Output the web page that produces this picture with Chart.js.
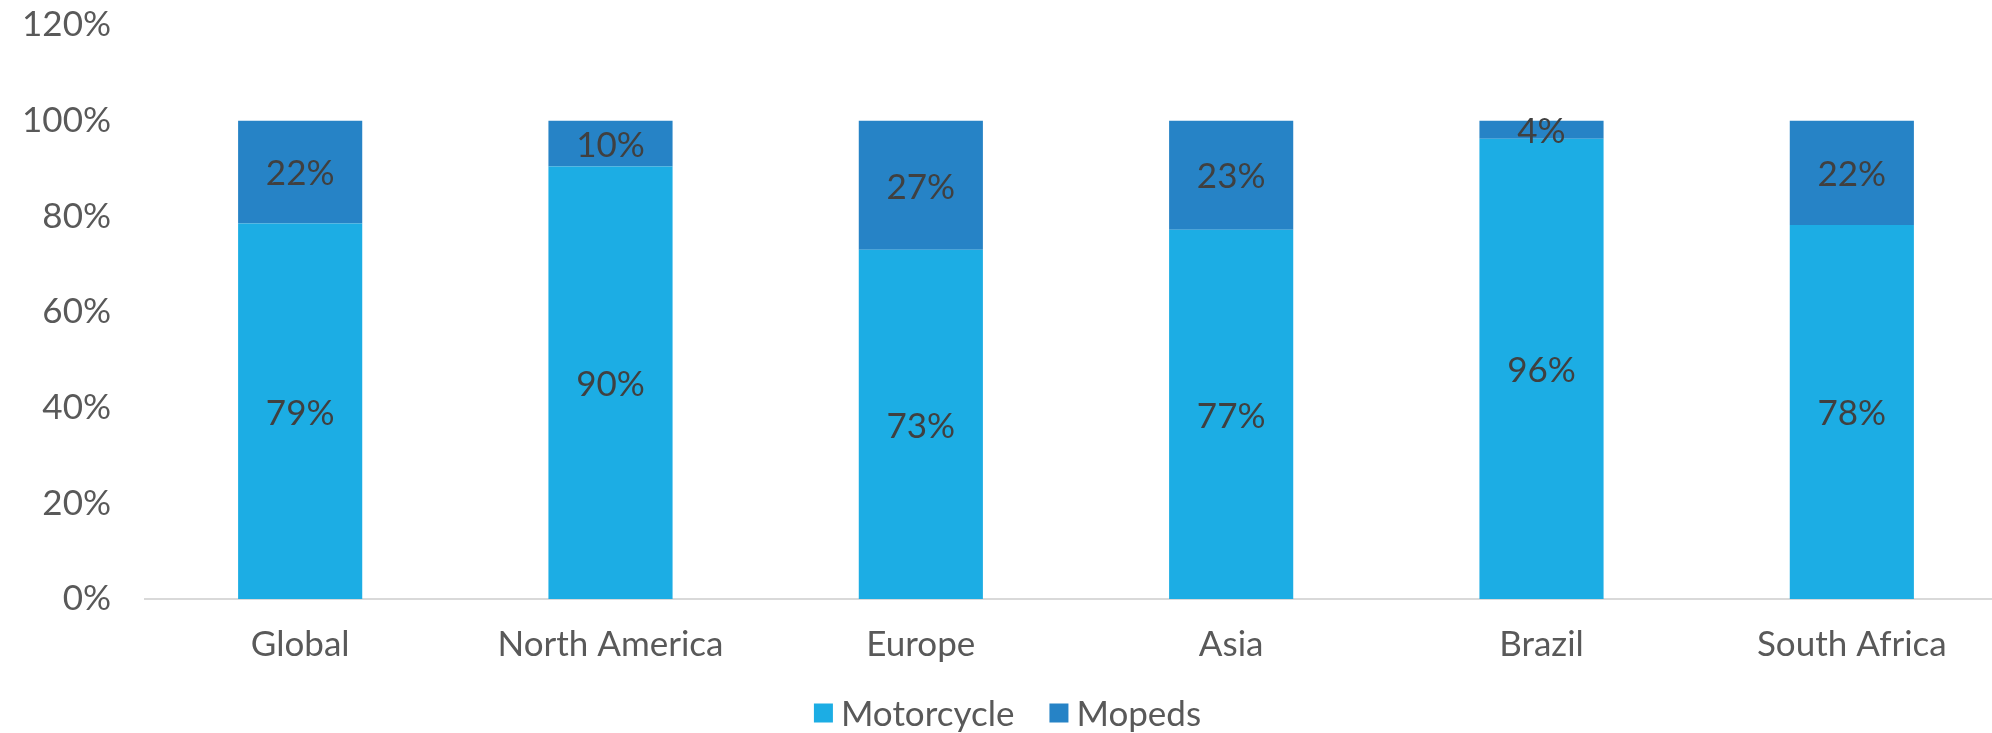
<!DOCTYPE html>
<html>
<head>
<meta charset="utf-8">
<script src="https://cdn.jsdelivr.net/npm/chart.js@4/dist/chart.umd.min.js"></script>
<style>
  html, body { margin: 0; padding: 0; background: #ffffff; overflow: hidden; }
  #wrap { width: 1992px; height: 733px; overflow: hidden; }
  canvas { display: block; }
</style>
</head>
<body>
<div id="wrap"><canvas id="c" width="2015" height="733"></canvas></div>
<script>
const categories = ["Global", "North America", "Europe", "Asia", "Brazil", "South Africa"];
const motorcycle = [78.5, 90.4, 73, 77.2, 96.2, 78.2];
const mopeds = [21.5, 9.6, 27, 22.8, 3.8, 21.8];
const seriesNames = ["Motorcycle", "Mopeds"];
const seriesColors = ["#1CADE4", "#2683C6"];
const yTicks = [0, 20, 40, 60, 80, 100, 120];

const FONT = "Lato, 'DejaVu Sans', sans-serif";
const FSIZE = 35;

const dataLabelPlugin = {
  id: 'dataLabels',
  afterDatasetsDraw(chart) {
    const ctx = chart.ctx;
    ctx.save();
    ctx.font = FSIZE + "px " + FONT;
    ctx.fillStyle = "#404040";
    ctx.textAlign = "center";
    ctx.textBaseline = "middle";
    chart.data.datasets.forEach((ds, di) => {
      const meta = chart.getDatasetMeta(di);
      meta.data.forEach((el, i) => {
        const p = el.getProps(['x', 'y', 'base'], true);
        ctx.fillText(Math.round(ds.data[i]) + "%", p.x, (p.y + p.base) / 2 + 2);
      });
    });
    ctx.restore();
  }
};

const legendPlugin = {
  id: 'customLegend',
  afterDraw(chart) {
    const ctx = chart.ctx;
    ctx.save();
    ctx.font = FSIZE + "px " + FONT;
    const box = 19, gap = 8, itemGap = 35;
    const items = chart.data.datasets.map(d => ({ label: d.label, color: d.backgroundColor, w: ctx.measureText(d.label).width }));
    let total = 0;
    items.forEach((it, i) => { total += box + gap + it.w + (i < items.length - 1 ? itemGap : 0); });
    let x = chart.width / 2 - total / 2;
    const yc = 713;
    items.forEach(it => {
      ctx.fillStyle = it.color;
      ctx.fillRect(x, yc - box / 2, box, box);
      x += box + gap;
      ctx.fillStyle = "#595959";
      ctx.textAlign = "left";
      ctx.textBaseline = "middle";
      ctx.fillText(it.label, x, yc + 2);
      x += it.w + itemGap;
    });
    ctx.restore();
  }
};

new Chart(document.getElementById('c'), {
  type: 'bar',
  data: {
    labels: categories,
    datasets: [
      { label: seriesNames[0], data: motorcycle, backgroundColor: seriesColors[0], borderWidth: 0 },
      { label: seriesNames[1], data: mopeds, backgroundColor: seriesColors[1], borderWidth: 0 }
    ]
  },
  options: {
    responsive: false,
    animation: false,
    devicePixelRatio: 1,
    layout: { padding: { top: 0, right: 8, bottom: 0, left: 0 } },
    plugins: {
      legend: { display: false },
      tooltip: { enabled: false }
    },
    datasets: { bar: { categoryPercentage: 1.0, barPercentage: 0.4 } },
    scales: {
      x: {
        stacked: true,
        grid: { display: false, drawTicks: false },
        border: { display: true, color: "#D9D9D9", width: 2 },
        ticks: { color: "#595959", font: { family: FONT, size: FSIZE }, padding: 25, maxRotation: 0, autoSkip: false },
        afterFit(scale) { scale.height = 134; }
      },
      y: {
        stacked: true,
        min: 0,
        max: 120,
        afterBuildTicks(scale) { scale.ticks = yTicks.map(v => ({ value: v })); },
        grid: { display: false, drawTicks: false },
        border: { display: false },
        ticks: { color: "#595959", font: { family: FONT, size: FSIZE }, padding: 34, callback: v => v + "%" },
        afterFit(scale) { scale.width = 145; scale.paddingTop = 25; scale.paddingBottom = 0; }
      }
    }
  },
  plugins: [dataLabelPlugin, legendPlugin]
});
</script>
</body>
</html>
